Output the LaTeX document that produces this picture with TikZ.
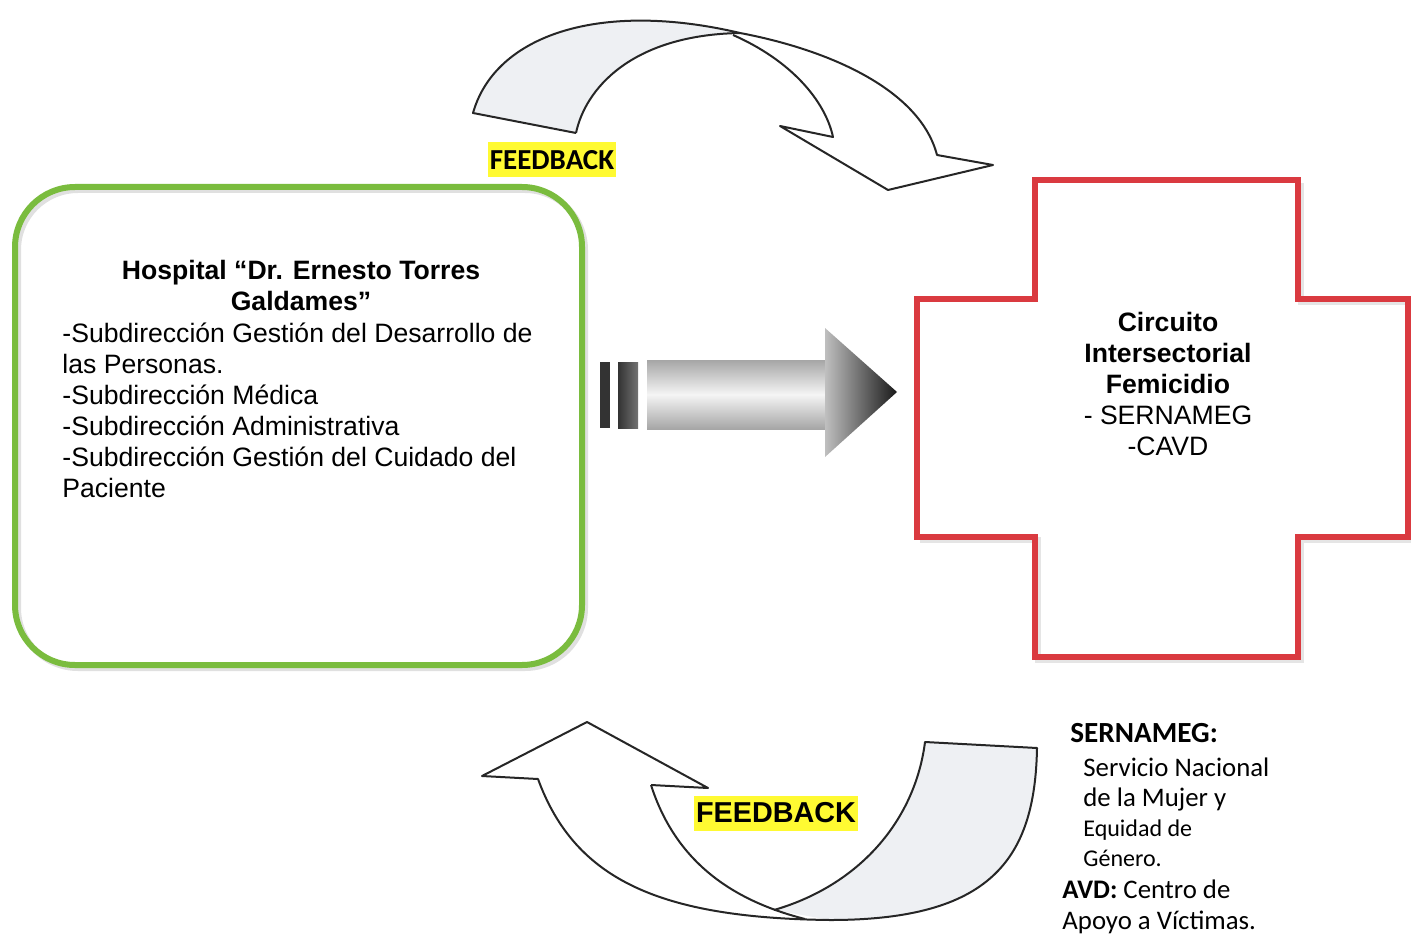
\documentclass[tikz,border=0pt]{standalone}
\usepackage{fontspec}
\setmainfont{Liberation Sans}
\newfontfamily\calibri{Carlito}
\usetikzlibrary{calc,positioning}

\definecolor{boxgreen}{RGB}{122,188,62}
\definecolor{crossred}{RGB}{218,58,64}
\definecolor{ribbon}{RGB}{238,240,243}
\definecolor{marker}{RGB}{255,250,50}

\tikzset{
  ribbonline/.style={draw=black!85,line width=1pt,line join=round},
  bodytext/.style={inner sep=0pt,font=\fontsize{13.3}{15.5}\selectfont},
  legendtext/.style={inner sep=0pt,font=\calibri\fontsize{13.4}{15}\selectfont},
  highlight/.style={fill=marker,inner xsep=1pt,inner ysep=0pt,minimum height=17.5pt}
}

\begin{document}
\begin{tikzpicture}[x=0.5pt,y=-0.5pt]
\useasboundingbox (0,0) rectangle (1411,935);

% The hospital box
\draw[black!12,line width=3pt,rounded corners=30pt] (18,190) rectangle (585,668);
\draw[boxgreen,line width=3pt,rounded corners=30pt] (15,187) rectangle (582,665);
\node[bodytext,font=\bfseries\fontsize{13.3}{15.5}\selectfont,align=center,anchor=base] (hosp-title) at (301,311) {Hospital “Dr. Ernesto Torres\\Galdames”};
\node[bodytext,align=left,anchor=base west] (hosp-list) at (62,497) {-Subdirección Gestión del Desarrollo de\\las Personas.\\-Subdirección Médica\\-Subdirección Administrativa\\-Subdirección Gestión del Cuidado del\\Paciente};

% The circuit cross
\draw[black!10,line width=3pt] (1301,183) -- (1301,302) -- (1411,302) (1411,540) -- (1301,540) -- (1301,660) -- (1038,660) -- (1038,540) -- (920,540);
\draw[crossred,line width=3pt,line join=miter] (917,299) -- (1035,299) -- (1035,180) -- (1298,180) -- (1298,299) -- (1408,299) -- (1408,537) -- (1298,537) -- (1298,657) -- (1035,657) -- (1035,537) -- (917,537) -- cycle;
\node[bodytext,align=center,anchor=base] (circuito) at (1168,455) {\textbf{Circuito}\\\textbf{Intersectorial}\\\textbf{Femicidio}\\- SERNAMEG\\-CAVD};

% The middle arrow
\fill[black!80] (600,362) rectangle (610,428);
\shade[left color=black!80,right color=black!55] (618,362) rectangle (638,428);
\shade[top color=gray!70,bottom color=gray!70,middle color=gray!8] (647,360) rectangle (826,429);
\shade[left color=gray!50,right color=black!90] (825,328) -- (897,392) -- (825,457) -- cycle;

% Top feedback arrow
\fill[ribbon] (473,113) .. controls (495,35) and (600,0) .. (740,33) .. controls (630,35) and (585,90) .. (576,133) -- cycle;
\draw[ribbonline] (576,133) -- (473,113) .. controls (495,35) and (600,0) .. (740,33) .. controls (830,50) and (920,90) .. (937,155) -- (993,165) -- (888,190) -- (780,126) -- (833,137) .. controls (825,100) and (790,60) .. (733,35);
\draw[ribbonline] (576,133) .. controls (585,90) and (630,35) .. (740,33);
\node[highlight,font=\calibri\bfseries\fontsize{14.5}{16}\selectfont] (fb-top) at (552,160) {FEEDBACK};

% Bottom feedback arrow
\fill[ribbon] (925,742) -- (1037,748) .. controls (1035,860) and (990,920) .. (830,920) -- (774,910) .. controls (860,885) and (915,820) .. (925,742) -- cycle;
\draw[ribbonline] (651,785) -- (708,788) -- (587,722) -- (482,776) -- (538,779) .. controls (575,880) and (660,918) .. (830,920) .. controls (990,920) and (1035,860) .. (1037,748) -- (925,742) .. controls (915,820) and (860,885) .. (774,910);
\draw[ribbonline] (651,785) .. controls (675,860) and (730,900) .. (805,919);
\node[highlight,font=\bfseries\fontsize{14.4}{16}\selectfont] (fb-bottom) at (776,813) {FEEDBACK};

% Legend
\node[legendtext,font=\calibri\bfseries\fontsize{14.6}{16}\selectfont,anchor=base west] (sernameg-title) at (1070,742) {SERNAMEG:};
\node[legendtext,align=left,anchor=base west] (sernameg-text) at (1083,866) {Servicio Nacional\\de la Mujer y\\{\fontsize{12}{15}\selectfont Equidad de}\\{\fontsize{12}{15}\selectfont Género.}};
\node[legendtext,font=\calibri\fontsize{13.4}{15.5}\selectfont,align=left,anchor=base west] (avd-text) at (1062,929) {\textbf{AVD:} Centro de\\Apoyo a Víctimas.};

\end{tikzpicture}
\end{document}
